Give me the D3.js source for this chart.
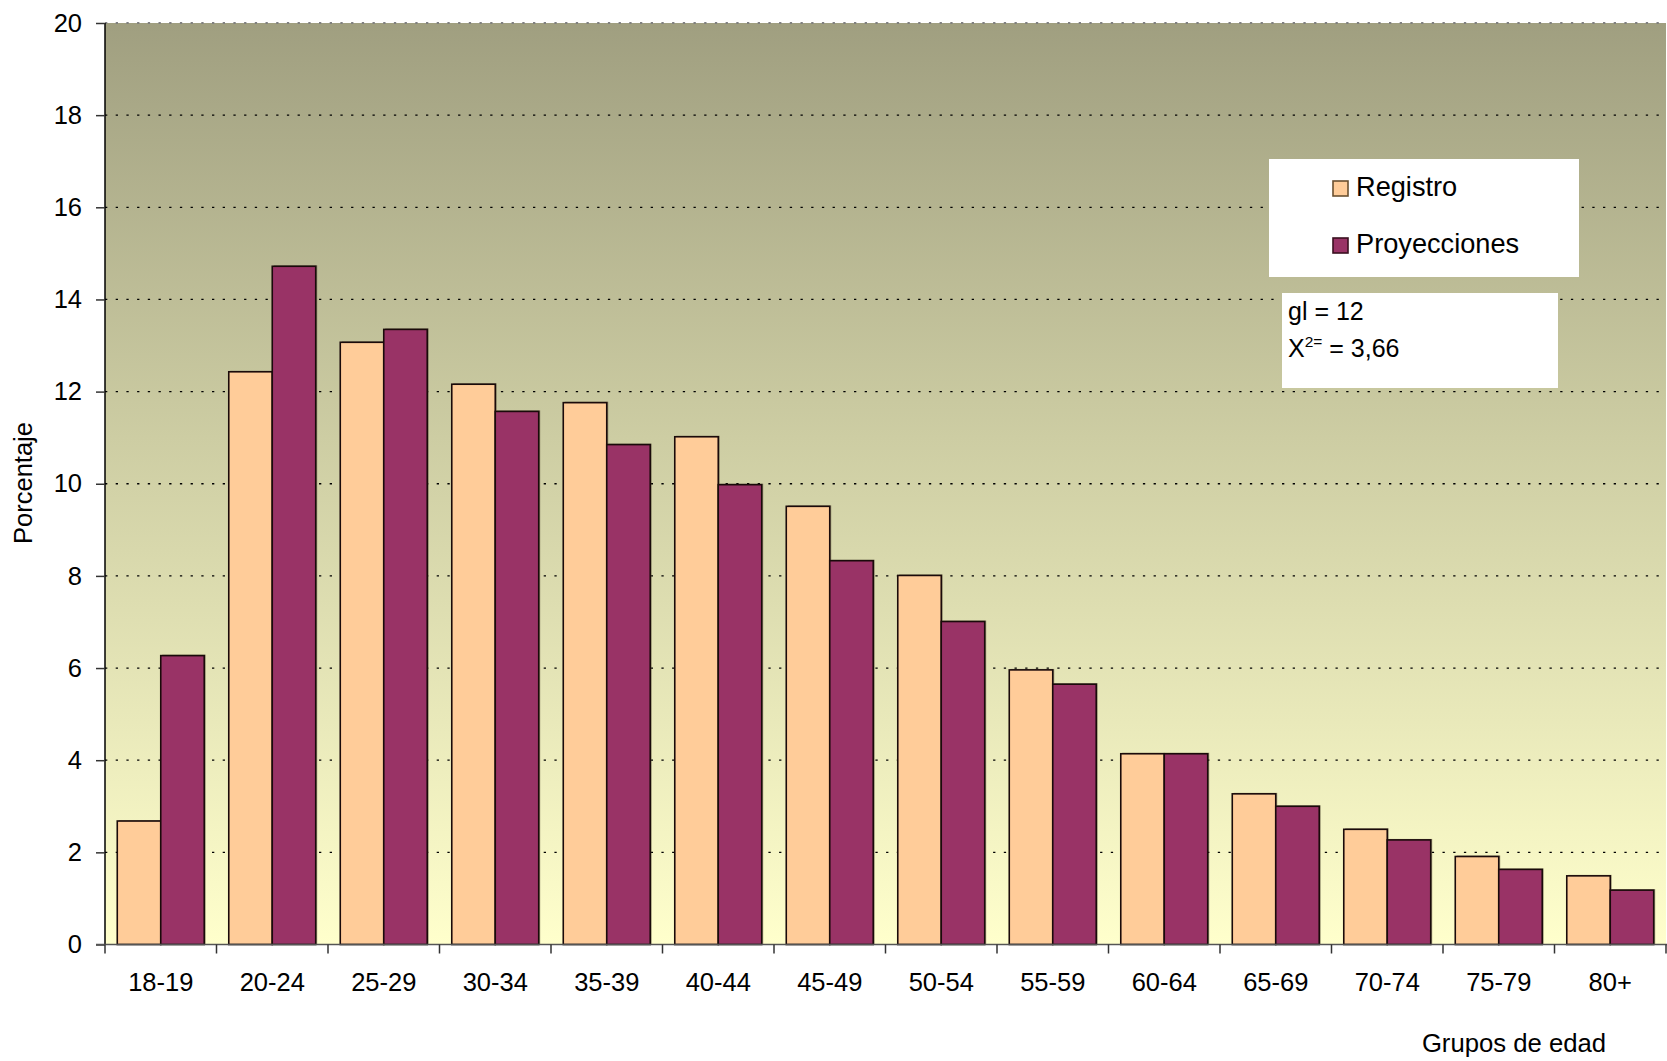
<!DOCTYPE html>
<html>
<head>
<meta charset="utf-8">
<script src="https://cdn.jsdelivr.net/npm/d3@7"></script>
<style>
  html, body { margin: 0; padding: 0; background: #fff; }
  svg { display: block; font-family: "Liberation Sans", Arial, sans-serif; }
</style>
</head>
<body>
<svg id="chart" width="1667" height="1061"></svg>
<script>
const categories = ["18-19","20-24","25-29","30-34","35-39","40-44","45-49","50-54","55-59","60-64","65-69","70-74","75-79","80+"];
const seriesNames = ["Registro","Proyecciones"];
const registro =     [2.68, 12.43, 13.07, 12.16, 11.76, 11.02, 9.51, 8.01, 5.96, 4.14, 3.27, 2.50, 1.91, 1.49];
const proyecciones = [6.27, 14.72, 13.35, 11.57, 10.85, 9.98, 8.33, 7.01, 5.65, 4.14, 3.00, 2.27, 1.63, 1.18];
const yTicks = [0, 2, 4, 6, 8, 10, 12, 14, 16, 18, 20];
const statsLines = ["gl = 12", "X", "2=", " = 3,66"];
const colors = {"Registro": "#FFCC99", "Proyecciones": "#993366"};

const svg = d3.select("#chart");
const L = 105, R = 1666, T = 23, B = 944.5;

const x0 = d3.scaleBand().domain(categories).range([L, R]).padding(0);
const bw = x0.bandwidth();
const x1 = d3.scaleBand().domain(seriesNames).range([bw * 0.11, bw * 0.89]).padding(0);
const y = d3.scaleLinear().domain([0, 20]).range([B, T]);

// background gradient
const defs = svg.append("defs");
const grad = defs.append("linearGradient").attr("id", "bg").attr("x1", 0).attr("y1", 0).attr("x2", 0).attr("y2", 1);
grad.append("stop").attr("offset", "0%").attr("stop-color", "#A09F80");
grad.append("stop").attr("offset", "45%").attr("stop-color", "#CDCDA3");
grad.append("stop").attr("offset", "100%").attr("stop-color", "#FFFFCC");
svg.append("rect").attr("x", L).attr("y", T).attr("width", R - L).attr("height", B - T).attr("fill", "url(#bg)");

// gridlines
svg.append("g").selectAll("line").data(yTicks.filter(d => d > 0)).join("line")
  .attr("x1", L).attr("x2", R).attr("y1", d => y(d)).attr("y2", d => y(d))
  .attr("stroke", d => d === 20 ? "#808080" : "#000").attr("stroke-width", d => d === 20 ? 2 : 1.3)
  .attr("stroke-dasharray", "2.3,8.4");

// bars
const data = categories.map((c, i) => ({c, vals: [{s: "Registro", v: registro[i]}, {s: "Proyecciones", v: proyecciones[i]}]}));
const groups = svg.append("g").selectAll("g").data(data).join("g")
  .attr("transform", d => `translate(${x0(d.c)},0)`);
// shadow
groups.selectAll("rect.sh").data(d => d.vals).join("rect").attr("class", "sh")
  .attr("x", d => x1(d.s) + 1.5).attr("y", d => y(d.v) - 1)
  .attr("width", x1.bandwidth()).attr("height", d => B - y(d.v) + 1)
  .attr("fill", "rgba(60,50,30,0.45)");
groups.selectAll("rect.bar").data(d => d.vals).join("rect").attr("class", "bar")
  .attr("x", d => x1(d.s)).attr("y", d => y(d.v))
  .attr("width", x1.bandwidth()).attr("height", d => B - y(d.v))
  .attr("fill", d => colors[d.s]).attr("stroke", "#1a0a0a").attr("stroke-width", 1.6);

// y axis
const yAxis = d3.axisLeft(y).tickValues(yTicks).tickSize(9).tickPadding(14);
const ya = svg.append("g").attr("transform", `translate(${L},0)`).call(yAxis);
ya.select(".domain").attr("stroke", "#000").attr("stroke-width", 1.5).attr("d", `M0,${T}V${B}`);
ya.selectAll(".tick line").attr("stroke", "#333").attr("stroke-width", 1.5);
ya.selectAll(".tick text").attr("font-size", 25.5).attr("fill", "#000").attr("font-family", "Liberation Sans, Arial, sans-serif");

// x axis line
svg.append("line").attr("x1", L - 9).attr("x2", R + 1).attr("y1", B).attr("y2", B).attr("stroke", "#555").attr("stroke-width", 1.5);
// x boundary ticks
const bounds = categories.map(c => x0(c)).concat([R]);
svg.append("g").selectAll("line").data(bounds).join("line")
  .attr("x1", d => d).attr("x2", d => d).attr("y1", B).attr("y2", B + 9)
  .attr("stroke", "#333").attr("stroke-width", 1.5);
// x labels
svg.append("g").selectAll("text").data(categories).join("text")
  .attr("x", d => x0(d) + bw / 2).attr("y", 991)
  .attr("text-anchor", "middle").attr("font-size", 25.5).text(d => d);

// axis titles
svg.append("text").attr("x", 1514).attr("y", 1051.5).attr("text-anchor", "middle").attr("font-size", 25.7).text("Grupos de edad");
svg.append("text").attr("transform", "translate(32,483) rotate(-90)").attr("text-anchor", "middle").attr("font-size", 25.5).text("Porcentaje");

// legend
const lg = svg.append("g");
lg.append("rect").attr("x", 1269).attr("y", 159).attr("width", 310).attr("height", 118).attr("fill", "#fff");
seriesNames.forEach((s, i) => {
  const yy = 181 + i * 57;
  lg.append("rect").attr("x", 1333).attr("y", yy).attr("width", 15).attr("height", 15)
    .attr("fill", colors[s]).attr("stroke", i === 0 ? "#6b5030" : "#3a1020").attr("stroke-width", 1.6);
  lg.append("text").attr("x", 1356).attr("y", yy + 14.5).attr("font-size", 27.2).text(s);
});

// stats box
const sg = svg.append("g");
sg.append("rect").attr("x", 1282).attr("y", 293).attr("width", 276).attr("height", 95).attr("fill", "#fff");
sg.append("text").attr("x", 1288).attr("y", 319.5).attr("font-size", 25).text(statsLines[0]);
const t2 = sg.append("text").attr("x", 1288).attr("y", 357).attr("font-size", 25);
t2.append("tspan").text(statsLines[1]);
t2.append("tspan").attr("font-size", 15.5).attr("dy", -10).text(statsLines[2]);
t2.append("tspan").attr("dy", 10).text(statsLines[3]);
</script>
</body>
</html>
